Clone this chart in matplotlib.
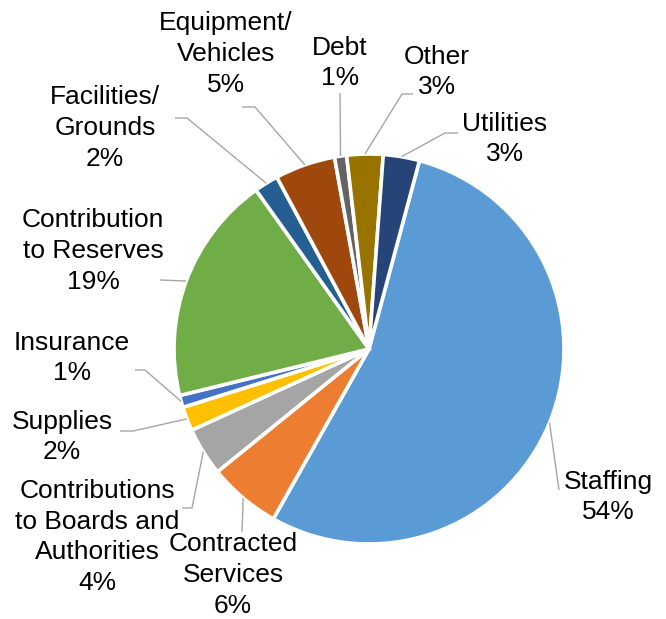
import numpy as np
import matplotlib
matplotlib.use("Agg")
import matplotlib.pyplot as plt

# ---- data ----
categories = ["Staffing", "Contracted\nServices", "Contributions\nto Boards and\nAuthorities",
              "Supplies", "Insurance", "Contribution\nto Reserves", "Facilities/\nGrounds",
              "Equipment/\nVehicles", "Debt", "Other", "Utilities"]
values = [54, 6, 4, 2, 1, 19, 2, 5, 1, 3, 3]
colors = ["#5B9BD5", "#ED7D31", "#A5A5A5", "#FFC000", "#4472C4", "#70AD47",
          "#255E91", "#9E480E", "#636363", "#997300", "#264478"]

# ---- layout (pixel coords, y measured from top) ----
W, H = 666, 619
cx, cy, R = 369, 349, 195
# label block centers
label_pos = [(608, 497), (233, 575), (97, 537), (62, 437), (72, 358), (93, 251),
             (105, 128), (226, 54), (340, 63), (437, 72), (505, 139)]
# leader-line end segments (elbow, end) in pixel coords
leaders = [
    [(559, 490)],
    [(242, 532)],
    [(192, 508), (182, 508)],
    [(133, 431), (120, 431)],
    [(145, 370), (135, 370)],
    [(160, 280)],
    [(187, 118), (175, 118)],
    [(255, 107), (242, 107)],
    [(340, 93)],
    [(402, 94), (413, 94)],
    [(445, 133), (458, 133)],
]

def Y(y):
    return H - y

plt.rcParams['font.family'] = ['Liberation Sans', 'DejaVu Sans']
fig = plt.figure(figsize=(W / 100, H / 100), dpi=100)
ax = fig.add_axes([0, 0, 1, 1])

wedges, _ = ax.pie(values, colors=colors, startangle=75, counterclock=False,
                   center=(cx, Y(cy)), radius=R,
                   wedgeprops=dict(edgecolor="white", linewidth=2.6))
ax.set_xlim(0, W)
ax.set_ylim(0, H)
ax.set_aspect("equal")
ax.axis("off")

total = sum(values)
for w, cat, v, (lx, ly), pts in zip(wedges, categories, values, label_pos, leaders):
    mid = np.deg2rad((w.theta1 + w.theta2) / 2)
    sx = cx + R * np.cos(mid)
    sy = Y(cy) + R * np.sin(mid)
    xs = [sx] + [p[0] for p in pts]
    ys = [sy] + [Y(p[1]) for p in pts]
    ax.plot(xs, ys, color="#A6A6A6", lw=1.0, solid_capstyle="butt")
    ax.text(lx, Y(ly), f"{cat}\n{round(v / total * 100)}%", ha="center", va="center",
            fontsize=19, color="#000000", linespacing=1.36)

fig.savefig("out.png", dpi=100)
